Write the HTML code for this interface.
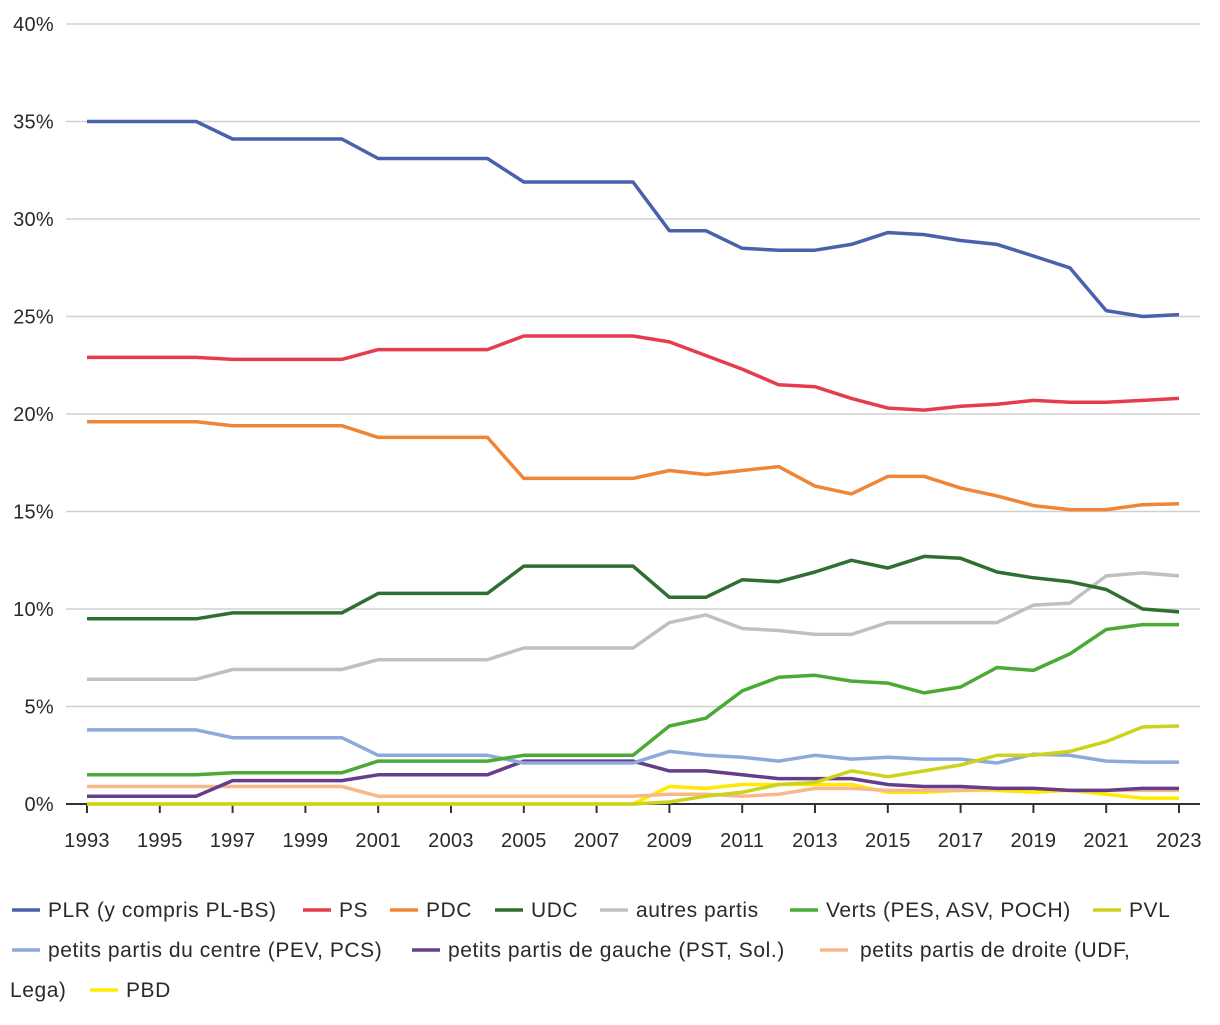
<!DOCTYPE html>
<html><head><meta charset="utf-8">
<style>
html,body{margin:0;padding:0;background:#fff;}
body{width:1220px;height:1020px;overflow:hidden;font-family:"Liberation Sans",sans-serif;}
svg text{font-family:"Liberation Sans",sans-serif;fill:#2a2a2a;font-size:20px;}
#legend text{font-size:21px;letter-spacing:0.55px;}
#axes text{letter-spacing:0.3px;}
</style></head><body>
<svg id="chart" width="1220" height="1020" viewBox="0 0 1220 1020">
<g id="grid"></g><g id="axes"></g><g id="lines"></g><g id="legend"></g>
</svg>
<script>
const years = [1993,1994,1995,1996,1997,1998,1999,2000,2001,2002,2003,2004,2005,2006,2007,2008,2009,2010,2011,2012,2013,2014,2015,2016,2017,2018,2019,2020,2021,2022,2023];
const yTicks = [0,5,10,15,20,25,30,35,40];
const xLabels = [1993,1995,1997,1999,2001,2003,2005,2007,2009,2011,2013,2015,2017,2019,2021,2023];
const seriesNames = ["PLR (y compris PL-BS)","PS","PDC","UDC","autres partis","Verts (PES, ASV, POCH)","PVL","petits partis du centre (PEV, PCS)","petits partis de gauche (PST, Sol.)","petits partis de droite (UDF, Lega)","PBD"];
const seriesColors = ["#4a62ab","#e63d4c","#ef8535","#2f6f2f","#c0c0c0","#4aaa33","#cdd21a","#8eaadb","#663c8c","#f7b98a","#ffea00"];
const plr = [35,35,35,35,34.1,34.1,34.1,34.1,33.1,33.1,33.1,33.1,31.9,31.9,31.9,31.9,29.4,29.4,28.5,28.4,28.4,28.7,29.3,29.2,28.9,28.7,28.1,27.5,25.3,25.0,25.1];
const ps = [22.9,22.9,22.9,22.9,22.8,22.8,22.8,22.8,23.3,23.3,23.3,23.3,24.0,24.0,24.0,24.0,23.7,23.0,22.3,21.5,21.4,20.8,20.3,20.2,20.4,20.5,20.7,20.6,20.6,20.7,20.8];
const pdc = [19.6,19.6,19.6,19.6,19.4,19.4,19.4,19.4,18.8,18.8,18.8,18.8,16.7,16.7,16.7,16.7,17.1,16.9,17.1,17.3,16.3,15.9,16.8,16.8,16.2,15.8,15.3,15.1,15.1,15.35,15.4];
const udc = [9.5,9.5,9.5,9.5,9.8,9.8,9.8,9.8,10.8,10.8,10.8,10.8,12.2,12.2,12.2,12.2,10.6,10.6,11.5,11.4,11.9,12.5,12.1,12.7,12.6,11.9,11.6,11.4,11.0,10.0,9.85];
const autres = [6.4,6.4,6.4,6.4,6.9,6.9,6.9,6.9,7.4,7.4,7.4,7.4,8.0,8.0,8.0,8.0,9.3,9.7,9.0,8.9,8.7,8.7,9.3,9.3,9.3,9.3,10.2,10.3,11.7,11.85,11.7];
const verts = [1.5,1.5,1.5,1.5,1.6,1.6,1.6,1.6,2.2,2.2,2.2,2.2,2.5,2.5,2.5,2.5,4.0,4.4,5.8,6.5,6.6,6.3,6.2,5.7,6.0,7.0,6.85,7.7,8.95,9.2,9.2];
const pvl = [0,0,0,0,0,0,0,0,0,0,0,0,0,0,0,0,0.1,0.4,0.6,1.0,1.1,1.7,1.4,1.7,2.0,2.5,2.5,2.7,3.2,3.95,4.0];
const centre = [3.8,3.8,3.8,3.8,3.4,3.4,3.4,3.4,2.5,2.5,2.5,2.5,2.1,2.1,2.1,2.1,2.7,2.5,2.4,2.2,2.5,2.3,2.4,2.3,2.3,2.1,2.55,2.5,2.2,2.15,2.15];
const gauche = [0.4,0.4,0.4,0.4,1.2,1.2,1.2,1.2,1.5,1.5,1.5,1.5,2.2,2.2,2.2,2.2,1.7,1.7,1.5,1.3,1.3,1.3,1.0,0.9,0.9,0.8,0.8,0.7,0.7,0.8,0.8];
const droite = [0.9,0.9,0.9,0.9,0.9,0.9,0.9,0.9,0.4,0.4,0.4,0.4,0.4,0.4,0.4,0.4,0.5,0.5,0.4,0.5,0.8,0.8,0.7,0.7,0.7,0.8,0.8,0.7,0.7,0.7,0.7];
const pbd = [0,0,0,0,0,0,0,0,0,0,0,0,0,0,0,0,0.9,0.8,1.0,1.0,1.0,1.0,0.6,0.6,0.7,0.7,0.6,0.7,0.5,0.3,0.3];
const seriesValues = [plr,ps,pdc,udc,autres,verts,pvl,centre,gauche,droite,pbd];

const NS="http://www.w3.org/2000/svg";
const X0=87,X1=1179,Y0=804,Y1=24;
const xs=y=>X0+(y-1993)*(X1-X0)/30;
const ys=v=>Y0-v*(Y0-Y1)/40;
function mk(tag,attrs,parent){const e=document.createElementNS(NS,tag);for(const k in attrs)e.setAttribute(k,attrs[k]);parent.appendChild(e);return e;}
const grid=document.getElementById('grid'),axes=document.getElementById('axes'),lines=document.getElementById('lines'),legend=document.getElementById('legend');
yTicks.forEach(t=>{
  if(t>0){const g=mk('line',{x1:66,x2:1200,y1:ys(t),y2:ys(t),stroke:'#d0d0d0','stroke-width':1.5},grid);
  
  }
  const tx=mk('text',{x:54,y:ys(t)+7,'text-anchor':'end'},axes);tx.textContent=t+'%';
  
  
});
const ax=mk('line',{x1:66,x2:1200,y1:Y0,y2:Y0,stroke:'#333','stroke-width':2},axes);


xLabels.forEach(y=>{
  const tk=mk('line',{x1:xs(y),x2:xs(y),y1:Y0,y2:Y0+9,stroke:'#333','stroke-width':2},axes);
  
  
  const tx=mk('text',{x:xs(y),y:847,'text-anchor':'middle'},axes);tx.textContent=y;
  
  
});
for(let i=seriesValues.length-1;i>=0;i--){
  const d=seriesValues[i].map((v,j)=>(j?'L':'M')+xs(years[j]).toFixed(1)+','+ys(v).toFixed(1)).join('');
  const p=mk('path',{d:d,fill:'none',stroke:seriesColors[i],'stroke-width':3.5,'stroke-linejoin':'round'},lines);
  
  
}
const legPos=[[12,917],[303,917],[390,917],[495,917],[600,917],[790,917],[1093,917],[12,957],[412,957],[820,957],[90,997]];
seriesNames.forEach((n,i)=>{
  const [lx,ly]=legPos[i];
  const g=mk('g',{},legend);
  
  
  mk('line',{x1:lx,x2:lx+28,y1:ly-7,y2:ly-7,stroke:seriesColors[i],'stroke-width':3.5},g);
  if(i===9){
    const t=mk('text',{x:lx+40,y:ly},g);t.textContent='petits partis de droite (UDF,';
    const t2=mk('text',{x:10,y:ly+40},g);t2.textContent='Lega)';
  } else {
    const t=mk('text',{x:lx+36,y:ly},g);t.textContent=n;
  }
});
</script>
</body></html>
